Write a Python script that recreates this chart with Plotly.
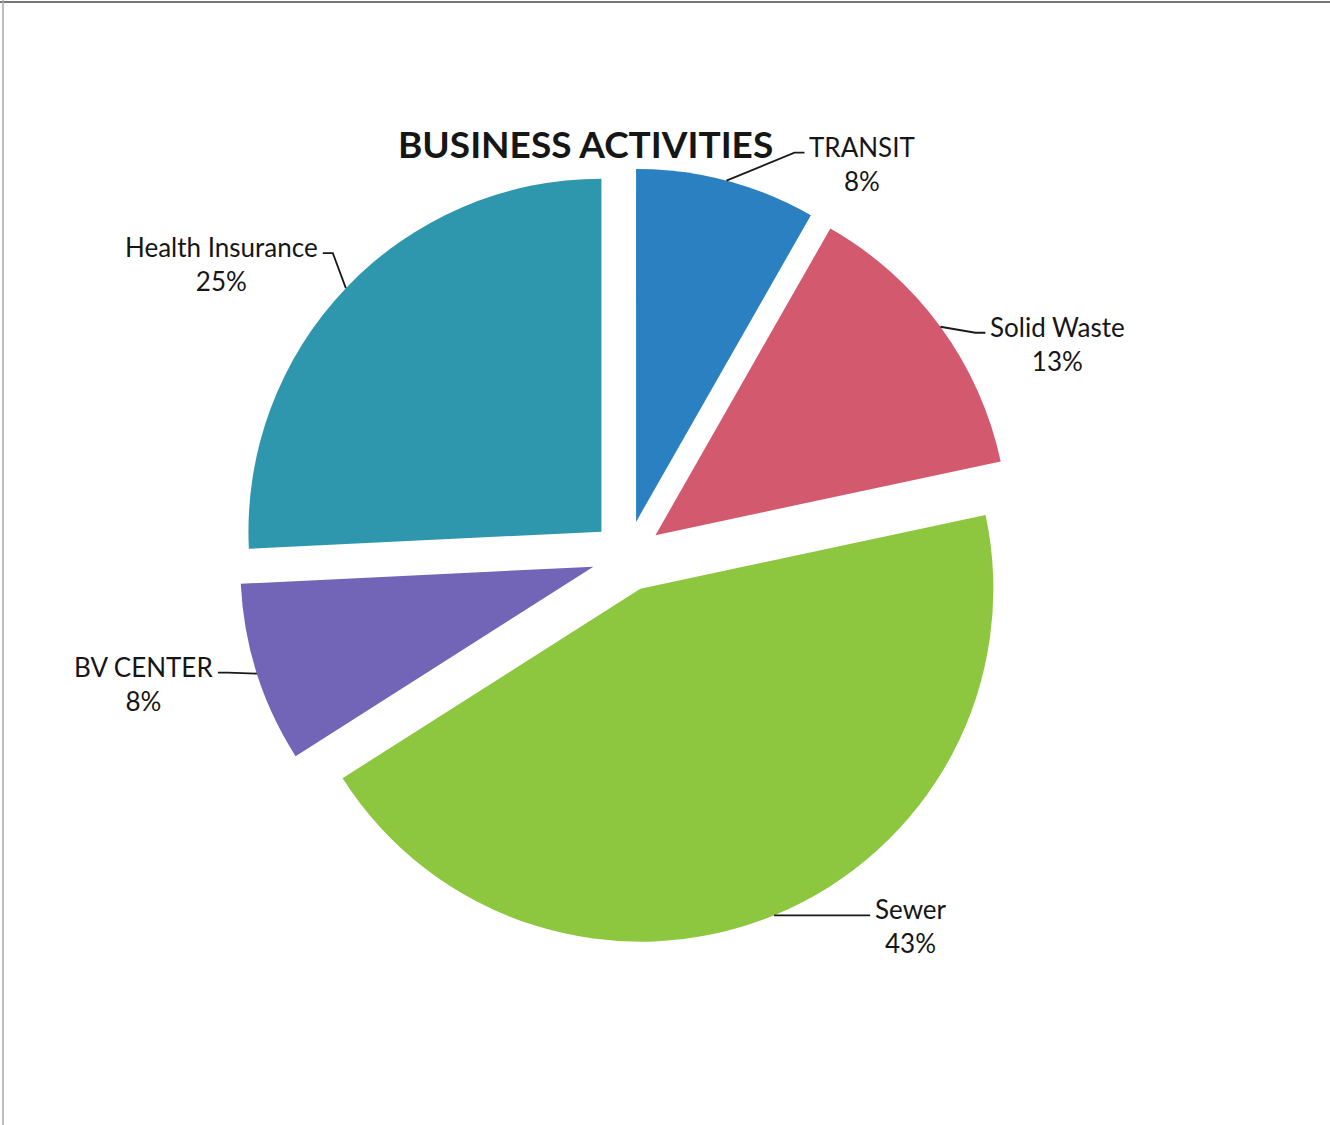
import math
import plotly.graph_objects as go

W, H = 1330, 1125

labels = ["TRANSIT", "Solid Waste", "Sewer", "BV CENTER", "Health Insurance"]
values = [8, 13, 43, 8, 25]
colors = ["#2b80c2", "#d3596f", "#8dc63f", "#7264b6", "#2f97ad"]

PULL = 0.1
# pie placement in pixels (domain is derived from these)
CX, CY, R = 627, 556, 353
half = R * (1 + PULL)

# leader-line bend point, in px relative to the arc point of each slice
LEADER = [(68, -28), (35, 6), (86, 0), (-29, -1), (-13, -35)]
STUB = 10
FONT = dict(family="Lato, sans-serif", size=26, color="#161616")


def to_paper(px, py):
    return px / W, 1 - py / H


fig = go.Figure(go.Pie(
    labels=labels, values=values, sort=False, direction="clockwise", rotation=0,
    pull=[PULL] * len(values), marker=dict(colors=colors, line=dict(width=0)),
    textinfo="none", hoverinfo="label+value", showlegend=False,
    domain=dict(x=[(CX - half) / W, (CX + half) / W],
                y=[1 - (CY + half) / H, 1 - (CY - half) / H]),
))

# data labels with leader lines, anchored on the slice mid-angles
total = sum(values)
start = 0.0
for lab, v, (lx, ly) in zip(labels, values, LEADER):
    mid = (start + v / total / 2) * 2 * math.pi
    start += v / total
    ux, uy = math.sin(mid), -math.cos(mid)
    ox, oy = CX + PULL * R * ux, CY + PULL * R * uy
    px, py = ox + R * ux, oy + R * uy
    side = 1 if ux >= 0 else -1
    qx, qy = px + lx, py + ly
    ex = qx + side * STUB
    pts = [to_paper(px, py), to_paper(qx, qy), to_paper(ex, qy)]
    path = "M " + " L ".join(f"{a:.5f},{b:.5f}" for a, b in pts)
    fig.add_shape(type="path", xref="paper", yref="paper", path=path,
                  line=dict(color="#1a1a1a", width=1.8))
    tx, ty = to_paper(ex + side * 3, qy + 11)
    fig.add_annotation(x=tx, y=ty, xref="paper", yref="paper", showarrow=False,
                       text=f"{lab}<br>{v}%", font=FONT, align="center",
                       xanchor="left" if side > 0 else "right", yanchor="middle")

tx, ty = to_paper(585, 143)
fig.add_annotation(x=tx, y=ty, xref="paper", yref="paper", xanchor="center",
                   yanchor="middle", text="<b>BUSINESS ACTIVITIES</b>", showarrow=False,
                   font=dict(family="Lato, sans-serif", size=37, color="#161616"))

# scanned page border (top and left edges)
fig.add_shape(type="line", xref="paper", yref="paper", x0=0, x1=1, y0=1 - 2 / H, y1=1 - 2 / H,
              line=dict(color="#777777", width=2))
fig.add_shape(type="line", xref="paper", yref="paper", x0=3 / W, x1=3 / W, y0=0, y1=1,
              line=dict(color="#aaaaaa", width=1.5))

fig.update_layout(width=W, height=H, margin=dict(l=0, r=0, t=0, b=0),
                  paper_bgcolor="white", plot_bgcolor="white")
fig.write_html("out.html", config={"displayModeBar": False},
               post_script="document.body.style.margin='0px';")
